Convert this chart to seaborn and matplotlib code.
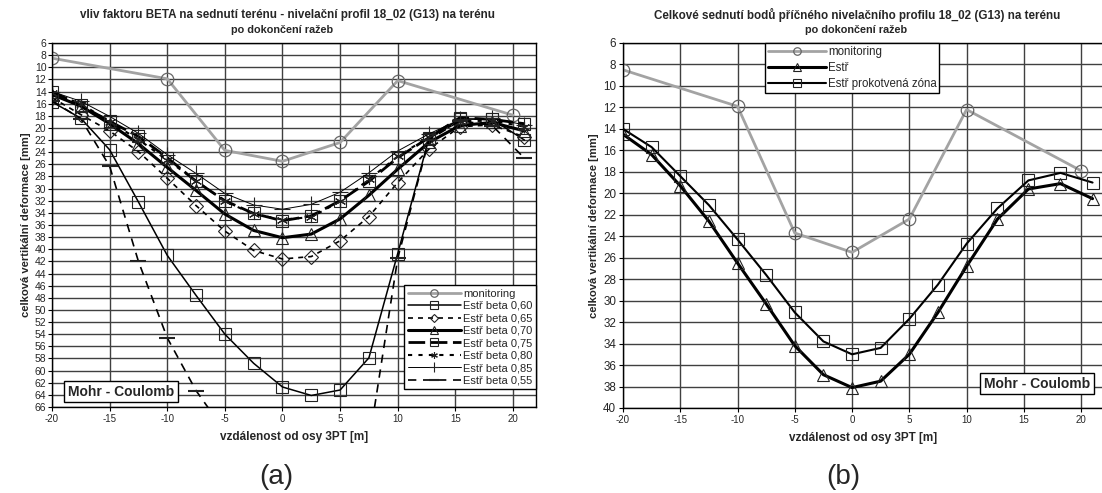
import matplotlib
matplotlib.use("Agg")
import matplotlib.pyplot as plt
import seaborn as sns

W, H = 1102, 493

# monitoring (measured) points
x_mon = [-20, -10, -5, 0, 5, 10, 20]
monitoring = [8.5, 11.9, 23.7, 25.5, 22.4, 12.2, 17.9]

# calculated profiles
x_calc = [-20, -17.5, -15, -12.5, -10, -7.5, -5, -2.5, 0, 2.5, 5, 7.5, 10, 12.7, 15.4, 18.2, 21]
beta_055 = [15.5, 18.5, 26.3, 42.0, 54.6, 63.3, 70.0, 78.0, 82.0, 82.0, 78.0, 72.0, 41.5, 22.0, 18.8, 19.6, 25.0]
beta_060 = [15.7, 18.4, 23.6, 32.2, 41.0, 47.6, 54.0, 58.8, 62.7, 64.1, 63.2, 57.9, 40.7, 21.8, 18.5, 18.6, 22.0]
beta_065 = [15.0, 17.8, 20.5, 23.9, 28.3, 32.8, 37.0, 40.2, 41.6, 41.2, 38.6, 34.6, 29.0, 23.5, 19.8, 19.5, 21.5]
beta_070 = [14.5, 16.4, 19.3, 22.6, 26.5, 30.3, 34.2, 36.9, 38.1, 37.5, 35.0, 31.1, 26.8, 22.4, 19.6, 19.1, 20.5]
beta_075 = [14.0, 16.3, 18.9, 21.4, 24.9, 28.8, 32.0, 34.1, 35.3, 34.5, 32.0, 28.8, 24.9, 21.6, 18.3, 18.6, 19.3]
beta_080 = [14.3, 16.0, 19.0, 21.9, 25.3, 28.7, 32.1, 34.2, 35.1, 34.7, 32.1, 28.5, 24.7, 21.5, 18.9, 18.8, 19.8]
beta_085 = [14.0, 15.6, 18.1, 20.9, 24.4, 27.5, 30.8, 32.7, 33.4, 32.6, 30.6, 27.4, 23.8, 21.0, 18.6, 18.4, 19.5]
estr = beta_070
estr_zone = [14.0, 15.7, 18.4, 21.1, 24.3, 27.6, 31.1, 33.8, 35.0, 34.4, 31.7, 28.5, 24.7, 21.4, 18.8, 18.1, 19.0]

sns.set_style("ticks")
plt.rcParams['font.family'] = ['Liberation Sans', 'DejaVu Sans']
plt.rcParams['axes.unicode_minus'] = False

fig = plt.figure(figsize=(W / 100, H / 100), dpi=100)
ax1 = fig.add_axes([52 / W, 1 - 407 / H, 484 / W, 364 / H])
ax2 = fig.add_axes([623 / W, 1 - 408 / H, 481 / W, 365 / H])

mon_kw = dict(color='#a3a3a3', lw=2.0, marker='o', ms=9, mfc='none', mec='#666666', mew=0.9)
mk = dict(ms=8.5, mfc='none', mec='#222222', mew=0.8, color='black')


def line(ax, x, y, label, **kw):
    sns.lineplot(x=x, y=y, ax=ax, label=label, sort=False, estimator=None, **kw)


# (a) beta influence
line(ax1, x_mon, monitoring, 'monitoring', **mon_kw)
line(ax1, x_calc, beta_060, 'Estř beta 0,60', lw=1.1, marker='s', **mk)
line(ax1, x_calc, beta_065, 'Estř beta 0,65', lw=1.2, ls=(0, (3, 3)), marker='D', **dict(mk, ms=7))
line(ax1, x_calc, beta_070, 'Estř beta 0,70', lw=2.2, marker='^', **mk)
line(ax1, x_calc, beta_075, 'Estř beta 0,75', lw=2.0, ls=(0, (6, 2)), marker='s', **mk)
line(ax1, x_calc, beta_080, 'Estř beta 0,80', lw=1.5, ls=(0, (2, 3)), marker=(6, 2, 0), **dict(mk, ms=8))
line(ax1, x_calc, beta_085, 'Estř beta 0,85', lw=0.7, marker='+', **dict(mk, ms=11))
line(ax1, x_calc, beta_055, 'Estř beta 0,55', lw=1.2, ls=(0, (5, 4)), marker='_', **dict(mk, ms=11, mew=1.5))

# (b) total settlement
line(ax2, x_mon, monitoring, 'monitoring', **mon_kw)
line(ax2, x_calc, estr, 'Estř', lw=2.2, marker='^', **mk)
line(ax2, x_calc, estr_zone, 'Estř prokotvená zóna', lw=1.5, marker='s', **mk)

for ax, ymax in ((ax1, 66), (ax2, 40)):
    ax.set_xlim(-20, 22)
    ax.set_ylim(ymax, 6)
    ax.set_xticks(range(-20, 21, 5))
    ax.set_yticks(range(6, ymax + 1, 2))
    ax.grid(True, color='#404040', lw=1.0)
    ax.set_axisbelow(True)
    for s in ax.spines.values():
        s.set_color('black')
        s.set_linewidth(1.0)
    ax.tick_params(axis='both', direction='out', length=3, width=0.8, color='black', pad=2)
    ax.tick_params(axis='x', labelsize=7)
    ax.set_xlabel('vzdálenost od osy 3PT [m]', fontsize=8.5, fontweight='bold', labelpad=5)
    ax.set_ylabel('celková vertikální deformace [mm]', fontsize=8.1, fontweight='bold', labelpad=3)

ax1.tick_params(axis='y', labelsize=7.5, pad=1)
ax2.tick_params(axis='y', labelsize=8.4, pad=2)

leg_kw = dict(frameon=True, fancybox=False, edgecolor='black', framealpha=1, borderaxespad=0,
              handletextpad=0.2, markerscale=0.6, bbox_transform=fig.transFigure)
leg1 = ax1.legend(loc='lower right', bbox_to_anchor=(536 / W, 1 - 389 / H), fontsize=8,
                  handlelength=4.8, labelspacing=0.22, borderpad=0.3, **leg_kw)
leg2 = ax2.legend(loc='upper left', bbox_to_anchor=(765 / W, 1 - 43 / H), fontsize=8.3,
                  handlelength=5.0, labelspacing=0.35, borderpad=0.25, **leg_kw)
for lg in (leg1, leg2):
    lg.get_frame().set_linewidth(1.0)

box = dict(boxstyle='square,pad=0.25', fc='white', ec='black', lw=1.0)
fig.text(121 / W, 1 - 391.5 / H, 'Mohr - Coulomb', fontsize=10, fontweight='bold',
         ha='center', va='center', bbox=box)
fig.text(1037 / W, 1 - 383.5 / H, 'Mohr - Coulomb', fontsize=10, fontweight='bold',
         ha='center', va='center', bbox=box)

fig.text(288 / W, 1 - 15 / H, 'vliv faktoru BETA na sednutí terénu - nivelační profil 18_02 (G13) na terénu',
         fontsize=8.4, fontweight='bold', ha='center', va='center')
fig.text(282 / W, 1 - 30 / H, 'po dokončení ražeb', fontsize=7.8, fontweight='bold', ha='center', va='center')
fig.text(857 / W, 1 - 15 / H, 'Celkové sednutí bodů příčného nivelačního profilu 18_02 (G13) na terénu',
         fontsize=8.4, fontweight='bold', ha='center', va='center')
fig.text(856 / W, 1 - 30 / H, 'po dokončení ražeb', fontsize=7.8, fontweight='bold', ha='center', va='center')

fig.text(276 / W, 1 - 477 / H, '(a)', fontsize=20, ha='center', va='center')
fig.text(843 / W, 1 - 477 / H, '(b)', fontsize=20, ha='center', va='center')

fig.savefig('out.png', dpi=100)
